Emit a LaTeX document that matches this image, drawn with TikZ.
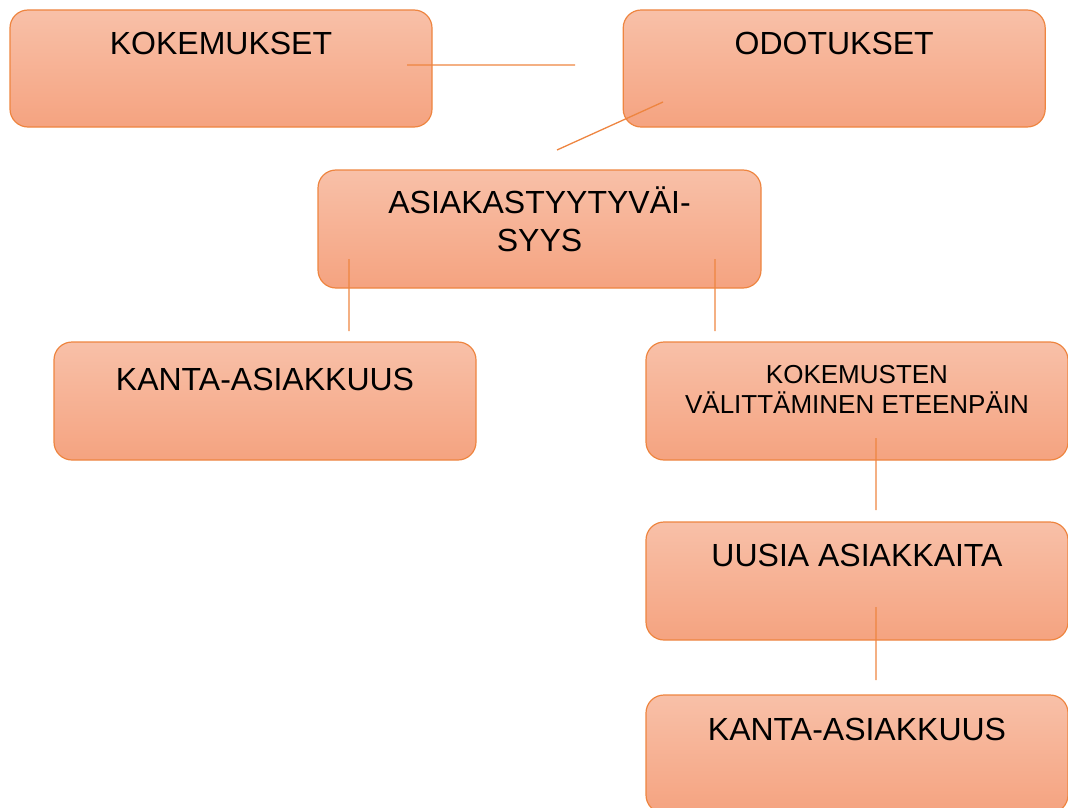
\documentclass[tikz,border=0pt]{standalone}
\usepackage{fontspec}
\setmainfont{Liberation Sans}
\usetikzlibrary{positioning}
\definecolor{boxtop}{HTML}{F8C0A8}
\definecolor{boxbot}{HTML}{F5A380}
\definecolor{boxline}{HTML}{EE8540}
\tikzset{every picture/.style={line width=1.2pt}}

\begin{document}
\begin{tikzpicture}[x=1pt,y=-1pt,
        box/.style={draw=boxline, rounded corners=18pt, top color=boxtop, bottom color=boxbot,
            minimum width=422pt, minimum height=117pt, inner sep=0pt},
        lbl/.style={inner sep=0pt, align=center, font=\fontsize{32}{38}\selectfont},
        small/.style={font=\fontsize{26}{30}\selectfont},
        link/.style={draw=boxline, line width=1.3pt}]
        \useasboundingbox (0,0) rectangle (1068,808);
        % boxes
        \node[box] (kok) at (221,68.5) {};
        \node[box,right=190pt of kok] (odo) {};
        \node[box,minimum width=443pt,minimum height=118pt] (asi) at (539.5,229) {};
        \node[box,minimum height=118pt] (kan) at (265,401) {};
        \node[box,minimum height=118pt] (val) at (857,401) {};
        \node[box,minimum height=118pt] (uus) at (857,581) {};
        \node[box,minimum height=118pt] (kan2) at (857,754) {};
        % texts
        \node[lbl,below=22pt of kok.north] (kok-t) {KOKEMUKSET};
        \node[lbl,below=22pt of odo.north] (odo-t) {ODOTUKSET};
        \node[lbl,below=17pt of asi.north] (asi-t) {ASIAKASTYYTYVÄI-\\SYYS};
        \node[lbl,below=26pt of kan.north] (kan-t) {KANTA-ASIAKKUUS};
        \node[lbl,small,below=23pt of val.north] (val-t) {KOKEMUSTEN\\VÄLITTÄMINEN ETEENPÄIN};
        \node[lbl,below=22pt of uus.north] (uus-t) {UUSIA ASIAKKAITA};
        \node[lbl,below=23pt of kan2.north] (kan2-t) {KANTA-ASIAKKUUS};
        % connector ends
        \coordinate (c1a) at (407,65);
        \coordinate (c1b) at (575,65);
        \coordinate (c2a) at (663,102);
        \coordinate (c2b) at (557,150);
        \coordinate (c3a) at (349,259);
        \coordinate (c3b) at (349,331);
        \coordinate (c4a) at (715,259);
        \coordinate (c4b) at (715,331);
        \coordinate (c5a) at (876,438);
        \coordinate (c5b) at (876,510);
        \coordinate (c6a) at (876,607);
        \coordinate (c6b) at (876,680);
        \draw[link]
            (c1a) -- (c1b)
            (c2a) -- (c2b)
            (c3a) -- (c3b)
            (c4a) -- (c4b)
            (c5a) -- (c5b)
            (c6a) -- (c6b)
            ;
\end{tikzpicture}
\end{document}
